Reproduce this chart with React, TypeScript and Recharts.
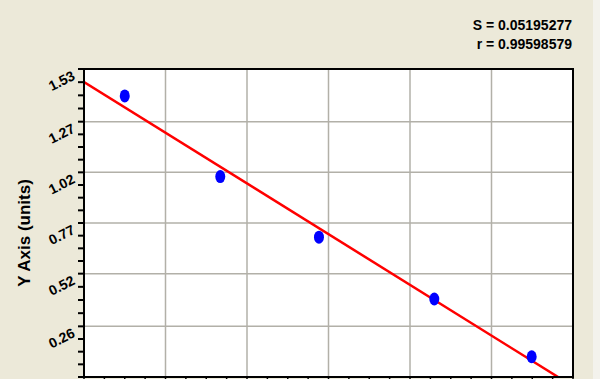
import { ComposedChart, Scatter, Line, XAxis, YAxis, CartesianGrid, ReferenceArea } from 'recharts';

// standards
const standardX = [0.5, 1.672, 2.883, 4.298, 5.493];
const standardY = [1.397, 0.999, 0.7, 0.395, 0.11];

// regression line end points
const fitX = [0, 6];
const fitY = [1.466, -0.036];

const yMajorTicks = [0.01, 0.26, 0.52, 0.77, 1.02, 1.27, 1.53];
const xGridValues = [1, 2, 3, 4, 5];
const xMinorStep = 0.25;

const statLines = ['S = 0.05195277', 'r = 0.99598579'];

const points = standardX.map((x, i) => ({ x, y: standardY[i] }));
const fitLine = fitX.map((x, i) => ({ x, y: fitY[i] }));

// 3 minor ticks between each pair of major ticks
const yTicks: number[] = [];
yMajorTicks.forEach((v, i) => {
  yTicks.push(v);
  const next = yMajorTicks[i + 1];
  if (next !== undefined) {
    for (let k = 1; k < 4; k++) yTicks.push(v + ((next - v) * k) / 4);
  }
});
const xTicks = Array.from({ length: 6 / xMinorStep + 1 }, (_, i) => i * xMinorStep);

const font = '"Liberation Sans", Arial, sans-serif';

function YTick(props: any) {
  const { x, y, payload } = props;
  const major = yMajorTicks.includes(payload.value);
  return (
    <g>
      <line x1={x - 6} x2={x} y1={y} y2={y} stroke="#000" strokeWidth={2} />
      {major && (
        <text
          x={x - 8}
          y={y + 10}
          transform={`rotate(-27, ${x - 8}, ${y + 10})`}
          textAnchor="end"
          fontFamily={font}
          fontWeight="bold"
          fontSize={14}
          fill="#000"
        >
          {payload.value.toFixed(2)}
        </text>
      )}
    </g>
  );
}

function XTick(props: any) {
  const { x, y } = props;
  return <line x1={x} x2={x} y1={y} y2={y + 4} stroke="#000" strokeWidth={1.5} />;
}

function Dot(props: any) {
  return <ellipse cx={props.cx} cy={props.cy} rx={5} ry={6.5} fill="#0000FF" />;
}

export default function App() {
  return (
    <div
      style={{
        position: 'absolute',
        top: 0,
        left: 0,
        width: 600,
        height: 379,
        overflow: 'hidden',
        background: '#F3F2EC',
        fontFamily: font,
      }}
    >
      <div style={{ position: 'absolute', left: 0, top: 0, width: 593, height: 379, background: '#ECE9D9' }} />
      <div
        style={{
          position: 'absolute',
          right: 28,
          top: 16,
          textAlign: 'right',
          fontWeight: 'bold',
          fontSize: 14,
          lineHeight: '19px',
          color: '#000',
        }}
      >
        {statLines.map((s) => (
          <div key={s}>{s}</div>
        ))}
      </div>
      <div
        style={{
          position: 'absolute',
          left: 25,
          top: 233,
          transform: 'translate(-50%, -50%) rotate(-90deg)',
          whiteSpace: 'nowrap',
          fontWeight: 'bold',
          fontSize: 17,
          color: '#000',
        }}
      >
        Y Axis (units)
      </div>
      <div style={{ position: 'absolute', left: 0, top: 0 }}>
        <ComposedChart width={593} height={420} margin={{ top: 69, right: 20, bottom: 13, left: 0 }}>
          <CartesianGrid
            fill="#FFFFFF"
            stroke="#B2B0A8"
            strokeWidth={1.5}
            horizontalValues={yMajorTicks.slice(1, -1)}
            verticalValues={xGridValues}
          />
          <XAxis
            type="number"
            dataKey="x"
            domain={[0, 6]}
            ticks={xTicks}
            tick={<XTick />}
            interval={0}
            tickSize={0}
            tickMargin={0}
            tickLine={false}
            height={30}
            axisLine={{ stroke: '#000', strokeWidth: 2 }}
            allowDataOverflow
          />
          <YAxis
            type="number"
            dataKey="y"
            domain={[0.01, 1.53]}
            ticks={yTicks}
            tick={<YTick />}
            interval={0}
            tickSize={0}
            tickMargin={0}
            tickLine={false}
            width={84}
            axisLine={{ stroke: '#000', strokeWidth: 2 }}
            allowDataOverflow
          />
          <Line
            data={fitLine}
            dataKey="y"
            type="linear"
            stroke="#FF0000"
            strokeWidth={2.5}
            dot={false}
            activeDot={false}
            isAnimationActive={false}
          />
          <Scatter data={points} dataKey="y" shape={<Dot />} isAnimationActive={false} />
          <ReferenceArea x1={0} x2={6} y1={0.01} y2={1.53} fill="none" stroke="#000" strokeWidth={2} />
        </ComposedChart>
      </div>
    </div>
  );
}
